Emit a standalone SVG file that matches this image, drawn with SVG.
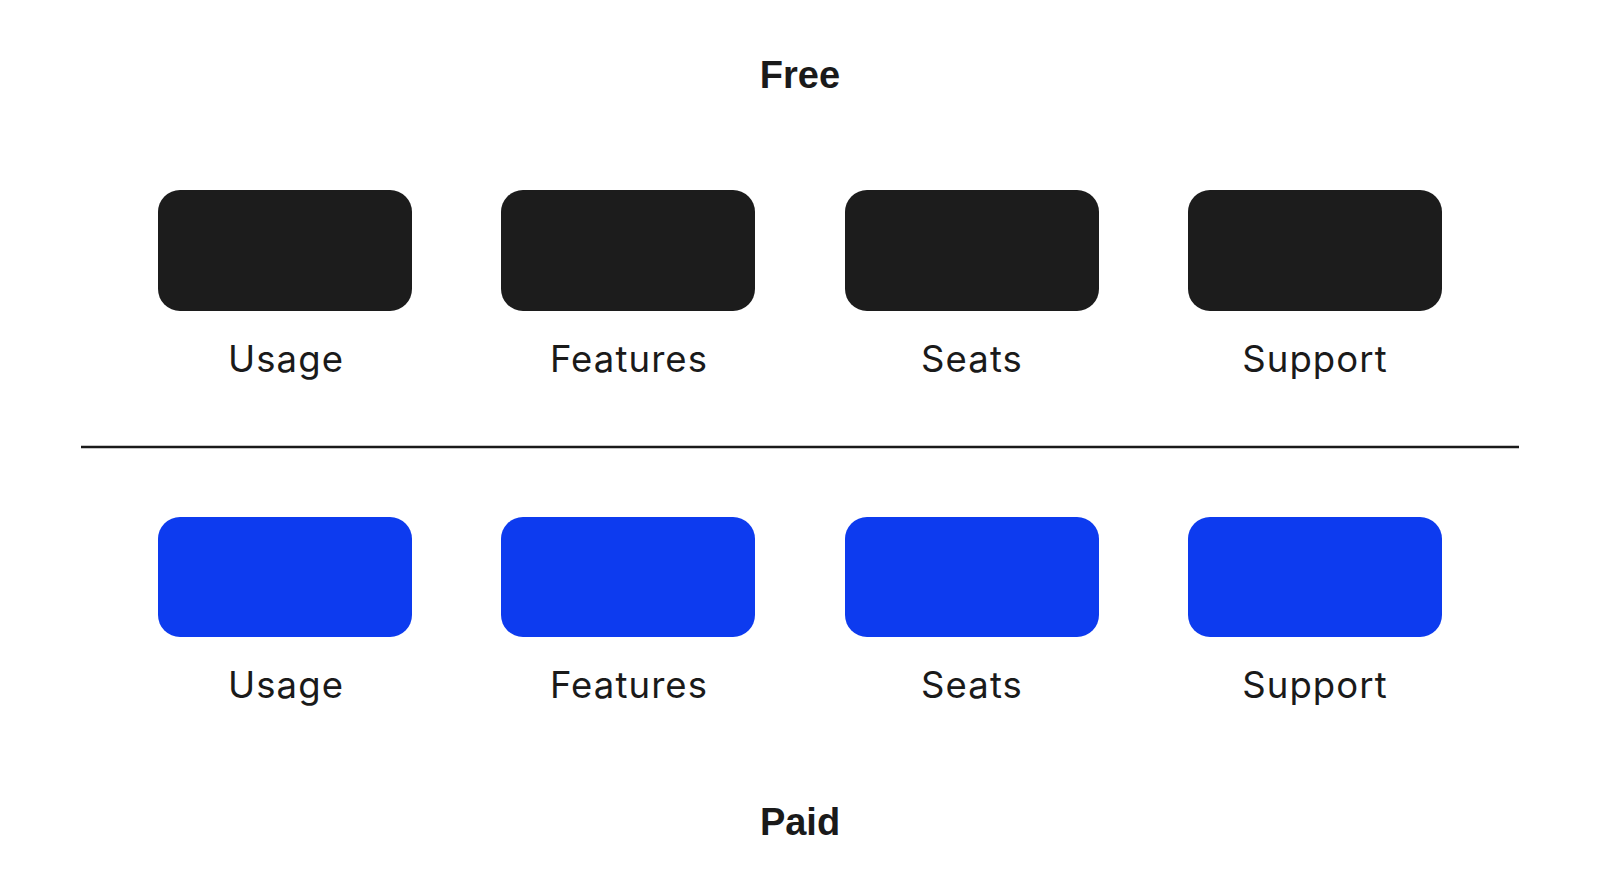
<svg xmlns="http://www.w3.org/2000/svg" width="1600" height="893" viewBox="0 0 1600 893">
<style>
.free{fill:#1c1c1c}
.paid{fill:#0d3bef}
.lbl{font-family:Inter,"Liberation Sans",Arial,sans-serif;font-size:36.5px;letter-spacing:1.1px;fill:#1a1a1a;text-anchor:middle}
.ttl{font-family:"Liberation Sans",Arial,sans-serif;font-size:38px;font-weight:bold;fill:#1a1a1a;text-anchor:middle}
</style>
<rect width="1600" height="893" fill="#ffffff"/>
<text class="ttl" x="800" y="88">Free</text>
<text class="ttl" x="800" y="835">Paid</text>
<g id="connectors">
<line x1="81" y1="447" x2="1519" y2="447" stroke="#1a1a1a" stroke-width="2.5"/>
</g>
<g id="free-usage"><rect class="free" x="158" y="190" width="254" height="121" rx="22"/><text class="lbl" x="286" y="372">Usage</text></g>
<g id="free-features"><rect class="free" x="501" y="190" width="254" height="121" rx="22"/><text class="lbl" x="629" y="372">Features</text></g>
<g id="free-seats"><rect class="free" x="845" y="190" width="254" height="121" rx="22"/><text class="lbl" x="972" y="372">Seats</text></g>
<g id="free-support"><rect class="free" x="1188" y="190" width="254" height="121" rx="22"/><text class="lbl" x="1315" y="372">Support</text></g>
<g id="paid-usage"><rect class="paid" x="158" y="517" width="254" height="120" rx="22"/><text class="lbl" x="286" y="698">Usage</text></g>
<g id="paid-features"><rect class="paid" x="501" y="517" width="254" height="120" rx="22"/><text class="lbl" x="629" y="698">Features</text></g>
<g id="paid-seats"><rect class="paid" x="845" y="517" width="254" height="120" rx="22"/><text class="lbl" x="972" y="698">Seats</text></g>
<g id="paid-support"><rect class="paid" x="1188" y="517" width="254" height="120" rx="22"/><text class="lbl" x="1315" y="698">Support</text></g>
</svg>
